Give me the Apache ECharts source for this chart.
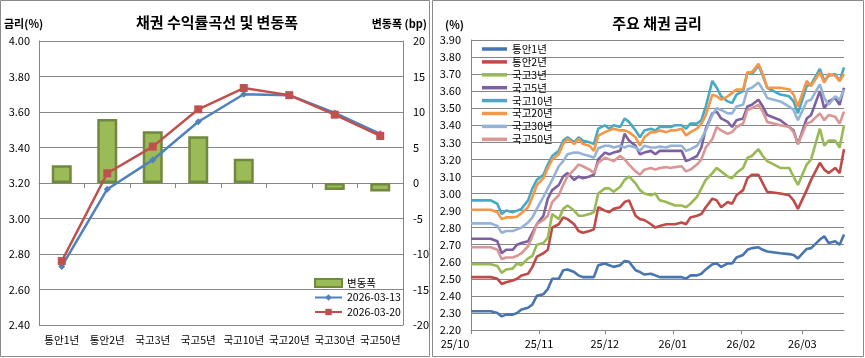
<!DOCTYPE html>
<html>
<head>
<meta charset="utf-8">
<script src="https://cdn.jsdelivr.net/npm/echarts@6/dist/echarts.min.js"></script>
<style>
html,body{margin:0;padding:0;background:#fff;}
#c{width:865px;height:358px;}
</style>
</head>
<body>
<div id="c"></div>
<script>
// ---- Left chart: yield curve ----
const categories = ['통안1년','통안2년','국고3년','국고5년','국고10년','국고20년','국고30년','국고50년'];
const change = [2.5, 9.0, 7.3, 6.6, 3.4, 0, -1.0, -1.2];
const curve0313 = [2.73, 3.165, 3.33, 3.545, 3.70, 3.695, 3.595, 3.477];
const curve0320 = [2.76, 3.255, 3.405, 3.615, 3.735, 3.695, 3.585, 3.465];

// ---- Right chart: major bond yields ----
const dates = ['2025-10-01','2025-10-10','2025-10-13','2025-10-15','2025-10-17','2025-10-20','2025-10-22','2025-10-24','2025-10-27','2025-10-29',
'2025-10-31','2025-11-03','2025-11-05','2025-11-07','2025-11-10','2025-11-12','2025-11-14','2025-11-17','2025-11-19','2025-11-21',
'2025-11-24','2025-11-26','2025-11-28','2025-12-01','2025-12-03','2025-12-05','2025-12-08','2025-12-10','2025-12-12','2025-12-15',
'2025-12-17','2025-12-19','2025-12-22','2025-12-24','2025-12-26','2025-12-29','2025-12-31','2026-01-02','2026-01-05','2026-01-07',
'2026-01-09','2026-01-12','2026-01-14','2026-01-16','2026-01-19','2026-01-21','2026-01-23','2026-01-26','2026-01-28','2026-01-30',
'2026-02-02','2026-02-04','2026-02-06','2026-02-09','2026-02-11','2026-02-13','2026-02-19','2026-02-23','2026-02-25','2026-02-27',
'2026-03-03','2026-03-05','2026-03-09','2026-03-11','2026-03-13','2026-03-16','2026-03-18','2026-03-20'];
const ms1 = [2.31,2.31,2.30,2.28,2.29,2.29,2.30,2.32,2.33,2.35, 2.40,2.41,2.44,2.50,2.50,2.55,2.555,2.54,2.52,2.51,
2.51,2.51,2.58,2.59,2.58,2.57,2.58,2.605,2.60,2.55, 2.54,2.525,2.53,2.52,2.51,2.51,2.51,2.51,2.51,2.50,
2.52,2.52,2.53,2.555,2.585,2.59,2.57,2.59,2.59,2.625, 2.64,2.67,2.68,2.685,2.67,2.66,2.65,2.645,2.64,2.62,
2.675,2.68,2.73,2.75,2.71,2.72,2.70,2.76];
const ms2 = [2.51,2.51,2.50,2.47,2.48,2.49,2.50,2.52,2.53,2.57, 2.63,2.65,2.67,2.80,2.82,2.86,2.85,2.82,2.78,2.77,
2.78,2.79,2.92,2.90,2.89,2.91,2.92,2.95,2.96,2.87, 2.85,2.845,2.82,2.80,2.81,2.82,2.82,2.82,2.83,2.82,
2.86,2.87,2.88,2.92,2.97,2.96,2.92,2.95,2.94,2.99, 3.02,3.09,3.11,3.11,3.06,3.01,3.00,2.99,2.96,2.91,
3.02,3.08,3.18,3.14,3.12,3.15,3.12,3.26];
const ktb3 = [2.585,2.585,2.575,2.535,2.555,2.56,2.59,2.58,2.62,2.635, 2.70,2.71,2.74,2.88,2.85,2.91,2.93,2.90,2.87,2.87,
2.88,2.89,3.00,3.03,3.03,3.01,3.04,3.08,3.10,3.06, 3.02,3.00,2.99,3.00,2.96,2.95,2.94,2.93,2.93,2.92,
2.94,2.98,3.03,3.08,3.12,3.15,3.13,3.10,3.09,3.12, 3.15,3.21,3.22,3.26,3.22,3.19,3.15,3.15,3.10,3.05,
3.17,3.20,3.38,3.28,3.31,3.31,3.27,3.40];
const ktb5 = [2.735,2.735,2.72,2.65,2.67,2.67,2.70,2.71,2.72,2.77, 2.82,2.87,2.97,3.02,3.05,3.10,3.12,3.08,3.10,3.09,
3.10,3.11,3.20,3.24,3.23,3.24,3.25,3.35,3.31,3.28, 3.23,3.24,3.25,3.23,3.25,3.25,3.25,3.25,3.25,3.19,
3.20,3.22,3.27,3.38,3.47,3.48,3.44,3.42,3.39,3.43, 3.44,3.51,3.52,3.55,3.51,3.46,3.43,3.39,3.37,3.29,
3.44,3.46,3.60,3.50,3.54,3.56,3.52,3.62];
const ktb10 = [2.96,2.96,2.94,2.88,2.90,2.89,2.90,2.91,2.96,3.03, 3.08,3.11,3.17,3.22,3.25,3.31,3.33,3.30,3.33,3.31,
3.30,3.29,3.38,3.40,3.38,3.40,3.39,3.44,3.42,3.37, 3.33,3.37,3.38,3.37,3.39,3.39,3.39,3.40,3.40,3.38,
3.41,3.41,3.43,3.51,3.66,3.62,3.57,3.54,3.53,3.58, 3.60,3.71,3.70,3.75,3.69,3.62,3.58,3.57,3.54,3.47,
3.63,3.64,3.73,3.66,3.69,3.70,3.66,3.74];
const ktb20 = [2.905,2.905,2.89,2.85,2.86,2.86,2.865,2.885,2.92,2.98, 3.05,3.09,3.15,3.20,3.23,3.29,3.32,3.29,3.32,3.29,
3.28,3.25,3.34,3.36,3.37,3.38,3.37,3.37,3.36,3.33, 3.28,3.33,3.36,3.36,3.37,3.36,3.37,3.37,3.38,3.34,
3.36,3.38,3.41,3.46,3.58,3.57,3.55,3.57,3.59,3.61, 3.61,3.71,3.71,3.76,3.70,3.62,3.62,3.61,3.58,3.51,
3.66,3.63,3.71,3.65,3.70,3.69,3.66,3.70];
const ktb30 = [2.825,2.825,2.81,2.77,2.78,2.78,2.79,2.80,2.83,2.86, 2.91,2.98,3.03,3.08,3.16,3.19,3.23,3.24,3.24,3.23,
3.22,3.21,3.265,3.28,3.28,3.27,3.28,3.27,3.28,3.27, 3.25,3.28,3.27,3.27,3.275,3.27,3.28,3.28,3.28,3.25,
3.26,3.28,3.32,3.37,3.46,3.50,3.49,3.47,3.47,3.51, 3.52,3.61,3.62,3.65,3.61,3.56,3.54,3.51,3.49,3.43,
3.54,3.55,3.64,3.56,3.52,3.57,3.55,3.61];
const ktb50 = [2.685,2.685,2.67,2.615,2.625,2.625,2.635,2.65,2.69,2.75, 2.82,2.845,2.87,2.95,2.99,3.05,3.10,3.14,3.17,3.16,
3.14,3.12,3.18,3.21,3.20,3.19,3.22,3.20,3.17,3.13, 3.11,3.14,3.15,3.14,3.15,3.155,3.15,3.155,3.16,3.13,
3.14,3.17,3.20,3.27,3.32,3.39,3.37,3.35,3.36,3.39, 3.41,3.49,3.50,3.52,3.48,3.42,3.40,3.39,3.36,3.29,
3.41,3.42,3.47,3.43,3.46,3.45,3.41,3.48];

const rightNames = ['통안1년','통안2년','국고3년','국고5년','국고10년','국고20년','국고30년','국고50년'];
const rightValues = [ms1, ms2, ktb3, ktb5, ktb10, ktb20, ktb30, ktb50];
const rightColors = ['#4675B0','#BE4B48','#98B954','#7D60A0','#46AAC5','#F79646','#95B3D7','#D99694'];

const FONT = '"Noto Sans CJK KR", "Noto Sans", sans-serif';
const AX = '#868686';
const X_MIN = new Date(2025, 9, 1).getTime();
const X_MAX = new Date(2026, 2, 20).getTime();

const chart = echarts.init(document.getElementById('c'), null, {renderer: 'canvas'});

const rightSeries = rightNames.map((n, k) => ({
  type: 'line', name: n, xAxisIndex: 1, yAxisIndex: 2,
  data: dates.map((d, i) => [d, rightValues[k][i]]),
  symbol: 'none', showSymbol: false,
  lineStyle: {width: 2.6, color: rightColors[k]},
  itemStyle: {color: rightColors[k]},
  z: 2 + k
}));

const gtext = (text, x, y, align, font) => ({
  type: 'text', silent: true, z: 100,
  style: {text, x, y, textAlign: align, align: align, textVerticalAlign: 'middle', verticalAlign: 'middle', font, fill: '#000'}
});

const option = {
  animation: false,
  backgroundColor: '#fff',
  textStyle: {fontFamily: FONT},
  graphic: [
    {type: 'rect', silent: true, shape: {x: 0.5, y: 0.5, width: 429, height: 356}, style: {fill: 'none', stroke: '#8a8a8a', lineWidth: 1}},
    {type: 'rect', silent: true, shape: {x: 432.5, y: 0.5, width: 431, height: 356}, style: {fill: 'none', stroke: '#8a8a8a', lineWidth: 1}},
    gtext('채권 수익률곡선 및 변동폭', 217, 22, 'center', 'bold 15px ' + FONT),
    gtext('금리(%)', 4, 24, 'left', 'bold 11px ' + FONT),
    gtext('변동폭 (bp)', 427, 24, 'right', 'bold 11px ' + FONT),
    gtext('주요 채권 금리', 657, 23, 'center', 'bold 15px ' + FONT),
    gtext('(%)', 445, 25, 'left', 'bold 11px ' + FONT)
  ],
  grid: [
    {left: 39, top: 41, width: 364, height: 284, outerBoundsMode: 'none', containLabel: false},
    {left: 471, top: 40, width: 373, height: 290, outerBoundsMode: 'none', containLabel: false}
  ],
  legend: [
    {
      data: [{name: '변동폭', icon: 'rect'}, '2026-03-13', '2026-03-20'],
      orient: 'vertical', left: 314, top: 277, padding: 0,
      itemWidth: 27, itemHeight: 8, itemGap: 2.5, selectedMode: false,
      textStyle: {fontSize: 10.5, color: '#000', fontFamily: FONT, lineHeight: 12}
    },
    {
      data: rightNames.map(n => ({name: n, icon: 'rect'})),
      orient: 'vertical', left: 482, top: 43, padding: 0,
      itemWidth: 25, itemHeight: 3.5, itemGap: 0.9, selectedMode: false,
      textStyle: {fontSize: 10.5, color: '#000', fontFamily: FONT, lineHeight: 12}
    }
  ],
  xAxis: [
    {
      type: 'category', gridIndex: 0, data: categories, boundaryGap: true,
      axisLine: {lineStyle: {color: AX}},
      axisTick: {show: true, length: 5, lineStyle: {color: AX}},
      axisLabel: {interval: 0, margin: 10, fontSize: 10.5, color: '#000'},
      splitLine: {show: false}
    },
    {
      type: 'time', gridIndex: 1, min: X_MIN, max: X_MAX,
      splitNumber: 6, minInterval: 28 * 864e5, maxInterval: 31 * 864e5,
      axisLine: {lineStyle: {color: AX}},
      axisTick: {show: true, length: 4, lineStyle: {color: AX}},
      minorTick: {show: false},
      axisLabel: {
        margin: 8, fontSize: 11, color: '#000', hideOverlap: false,
        formatter: function (v) {
          const d = new Date(v);
          const s = String(d.getFullYear()).slice(2) + '/' + String(d.getMonth() + 1).padStart(2, '0');
          return Math.abs(v - X_MIN) < 864e5 ? '{first|' + s + '}' : s;
        },
        rich: {first: {fontSize: 11, color: '#000', padding: [0, 32, 0, 0]}}
      },
      splitLine: {show: false}
    }
  ],
  yAxis: [
    {
      type: 'value', gridIndex: 0, position: 'left', min: 2.4, max: 4.0, interval: 0.2,
      axisLine: {show: true, lineStyle: {color: AX}}, axisTick: {show: false},
      splitLine: {show: true, lineStyle: {color: AX, width: 1}},
      axisLabel: {margin: 9, fontSize: 11, color: '#000', formatter: v => v.toFixed(2)}
    },
    {
      type: 'value', gridIndex: 0, position: 'right', min: -20, max: 20, interval: 5,
      axisLine: {show: true, lineStyle: {color: AX}}, axisTick: {show: false},
      splitLine: {show: false},
      axisLabel: {margin: 10, fontSize: 11, color: '#000'}
    },
    {
      type: 'value', gridIndex: 1, min: 2.2, max: 3.9, interval: 0.1,
      axisLine: {show: true, lineStyle: {color: AX}}, axisTick: {show: false},
      splitLine: {show: true, lineStyle: {color: AX, width: 1}},
      axisLabel: {margin: 10, fontSize: 11, color: '#000', formatter: v => v.toFixed(2)}
    }
  ],
  series: [
    {
      type: 'bar', name: '변동폭', xAxisIndex: 0, yAxisIndex: 1,
      data: change.map(v => v === 0 ? {value: 0, itemStyle: {borderWidth: 0}} : v),
      barWidth: 20,
      itemStyle: {color: '#9BBB59', borderColor: '#71893F', borderWidth: 2.5},
      z: 1
    },
    {
      type: 'line', name: '2026-03-13', xAxisIndex: 0, yAxisIndex: 0, data: curve0313,
      symbol: 'diamond', symbolSize: 7,
      lineStyle: {color: '#4F81BD', width: 2.5}, itemStyle: {color: '#4F81BD'}, z: 3
    },
    {
      type: 'line', name: '2026-03-20', xAxisIndex: 0, yAxisIndex: 0, data: curve0320,
      symbol: 'rect', symbolSize: 8,
      lineStyle: {color: '#C0504D', width: 2.5}, itemStyle: {color: '#C0504D'}, z: 4
    }
  ].concat(rightSeries)
};

chart.setOption(option);
</script>
</body>
</html>
